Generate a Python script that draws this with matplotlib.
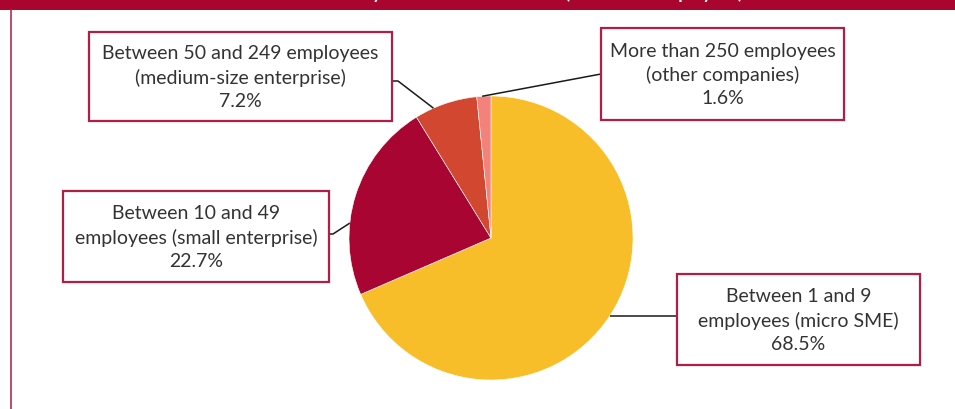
import numpy as np
import matplotlib
matplotlib.use("Agg")
import matplotlib.pyplot as plt
from matplotlib.patches import Rectangle

plt.rcParams['font.family'] = ['Lato', 'DejaVu Sans']

# Share of companies by workforce size
categories = [
    "Between 1 and 9\nemployees (micro SME)",
    "Between 10 and 49\nemployees (small enterprise)",
    "Between 50 and 249 employees\n(medium-size enterprise)",
    "More than 250 employees\n(other companies)",
]
shares = [68.5, 22.7, 7.2, 1.6]
colors = ["#F7BE2A", "#A80533", "#D2472F", "#F2827A"]
title = "Number of SMEs in the sector by size of their workforce (number of employees)"

W, H = 955, 410
fig = plt.figure(figsize=(W / 100, H / 100), dpi=100)
ax = fig.add_axes([0, 0, 1, 1])

def up(y):
    return H - y

# pie
cx, cy, r = 491, up(239), 142
wedges, _ = ax.pie(shares, colors=colors, startangle=90, counterclock=False,
                   center=(cx, cy), radius=r, frame=True,
                   wedgeprops=dict(edgecolor="white", linewidth=0.4))
ax.set_xlim(0, W)
ax.set_ylim(0, H)
ax.set_aspect("equal")
ax.axis("off")

# header band and side rule
ax.add_patch(Rectangle((0, up(11)), W, 11, facecolor="#A8062F", edgecolor="none", zorder=1))
ax.plot([11, 11], [0, up(11)], color="#B52A55", lw=1.2, zorder=1)
ax.text(743, up(-1.5), title, ha="right", va="baseline", color="white",
        fontsize=12.5, fontweight="bold", zorder=2, clip_on=True)

# label boxes: left, top, right, bottom; where the leader meets the wedge
boxes = [
    (677, 275, 920, 366),
    (63, 192, 329, 283),
    (89, 33, 392, 122),
    (601, 29, 844, 121),
]
anchor_frac = [0.5, 0.64, 0.70, 0.62]
box_color = "#B01E45"
text_color = "#333333"

for i, (wdg, (l, t, rr, b)) in enumerate(zip(wedges, boxes)):
    ang = np.deg2rad(wdg.theta1 + anchor_frac[i] * (wdg.theta2 - wdg.theta1))
    axp, ayp = cx + r * np.cos(ang), cy + r * np.sin(ang)
    ax.add_patch(Rectangle((l, up(b)), rr - l, b - t, facecolor="white",
                           edgecolor=box_color, lw=1.6, zorder=4))
    label = f"{categories[i]}\n{shares[i]:.1f}%"
    ax.text((l + rr) / 2, up((t + b) / 2), label, ha="center", va="center",
            color=text_color, fontsize=14, linespacing=1.42, zorder=5)
    if i == 0:
        xs, ys = [l, axp], [ayp, ayp]
    elif i == 1:
        xs, ys = [rr, rr + 4, axp], [up(235), up(235), ayp]
    elif i == 2:
        xs, ys = [rr, rr + 6, axp], [up(82), up(82), ayp]
    else:
        xs, ys = [l, axp], [up(75), ayp]
    ax.plot(xs, ys, color="#1A1A1A", lw=1.1, zorder=3, solid_capstyle="butt")

fig.savefig("out.png", dpi=100, facecolor="white")
